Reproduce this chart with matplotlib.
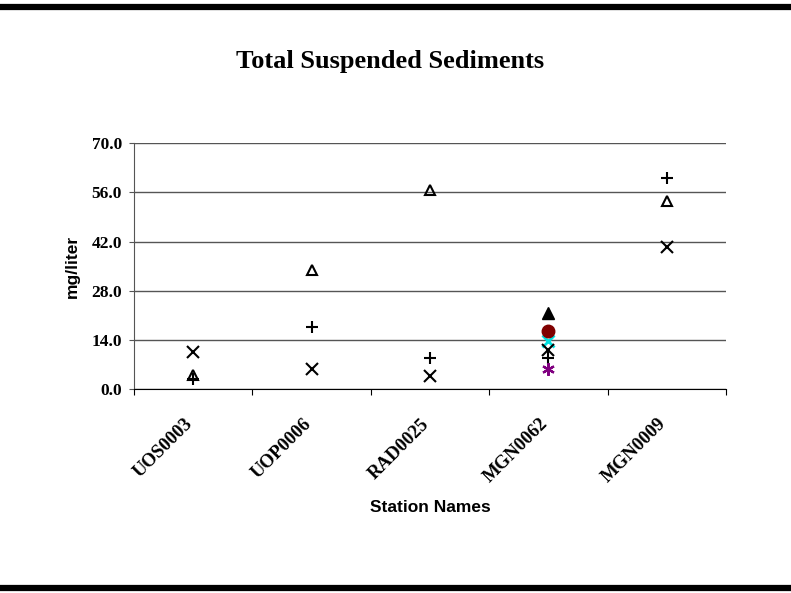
import numpy as np
import matplotlib
matplotlib.use("Agg")
import matplotlib.pyplot as plt
from matplotlib.lines import Line2D
from matplotlib.transforms import ScaledTranslation

stations = ["UOS0003", "UOP0006", "RAD0025", "MGN0062", "MGN0009"]

# values (mg/liter), nan = no sample
tss_x = [10.7, 5.7, 3.8, 11.2, 40.4]
tss_tri = [4.1, 34.0, 56.7, np.nan, 53.4]
tss_plus = [3.0, 17.8, 8.9, 8.9, 60.0]
tss_tri_fill = [np.nan, np.nan, np.nan, 21.7, np.nan]
tss_circle = [np.nan, np.nan, np.nan, 16.7, np.nan]
tss_cyan = [np.nan, np.nan, np.nan, 13.8, np.nan]
tss_star = [np.nan, np.nan, np.nan, 5.8, np.nan]

serif = "Liberation Serif"
sans = "Liberation Sans"

fig = plt.figure(figsize=(7.91, 5.93), dpi=100)
ax = fig.add_axes([0.1694, 0.3432, 0.7484, 0.4157])

xpos = np.arange(len(stations)) + 0.5

ax.plot(xpos, tss_tri_fill, ls="none", marker="^", ms=8, color="black")
ax.plot(xpos, tss_cyan, ls="none", marker="x", ms=8, mew=2, color="#00e0e0")
ax.plot(xpos, tss_circle, ls="none", marker="o", ms=9, color="#800000")
ax.plot(xpos, tss_x, ls="none", marker="x", ms=8, mew=1.5, color="black")
ax.plot(xpos, tss_tri, ls="none", marker="^", ms=7, mew=1.5,
        markerfacecolor="none", markeredgecolor="black")
ax.plot(xpos, tss_plus, ls="none", marker="+", ms=9, mew=1.5, color="black")
ax.plot(xpos, tss_star, ls="none", marker=(6, 2, 0), ms=9, mew=1.6, color="#800080")

ax.set_xlim(0, len(stations))
ax.set_ylim(0, 70)
ax.set_yticks(np.arange(0, 71, 14))
ax.set_yticklabels([f"{v:.1f}" for v in np.arange(0, 71, 14)],
                   fontfamily=serif, fontweight="bold", fontsize=12.5)
ax.yaxis.grid(True, color="#555555", linewidth=1)
ax.set_axisbelow(True)

# category boundaries carry the ticks, labels sit at the centres
ax.set_xticks(np.arange(len(stations) + 1))
ax.set_xticklabels([])
ax.set_xticks(xpos, minor=True)
ax.set_xticklabels(stations, minor=True, rotation=45, ha="right", va="top",
                   rotation_mode="anchor", fontfamily=serif,
                   fontweight="bold", fontsize=13.5)
ax.tick_params(axis="x", which="minor", length=0, pad=20)
ax.tick_params(axis="x", which="major", length=4, color="black")
ax.tick_params(axis="y", length=3.6, color="#555555", pad=5)
shift = ScaledTranslation(-0.09, 0.02, fig.dpi_scale_trans)
for lbl in ax.get_xticklabels(minor=True):
    lbl.set_transform(lbl.get_transform() + shift)

for s in ["top", "right"]:
    ax.spines[s].set_visible(False)
ax.spines["left"].set_color("#555555")
ax.spines["bottom"].set_color("black")

ax.set_ylabel("mg/liter", fontfamily=sans, fontweight="bold", fontsize=12.5, labelpad=8)
ax.set_xlabel("Station Names", fontfamily=sans, fontweight="bold", fontsize=12.5, labelpad=10)

fig.text(0.493, 0.897, "Total Suspended Sediments", ha="center", va="center",
         fontfamily=serif, fontweight="bold", fontsize=19)

# heavy black rules across the top and bottom of the sheet
fig.add_artist(Line2D([0, 1], [0.988, 0.988], color="black", lw=4.5))
fig.add_artist(Line2D([0, 1], [0.008, 0.008], color="black", lw=4.5))

fig.savefig("out.png", dpi=100)
